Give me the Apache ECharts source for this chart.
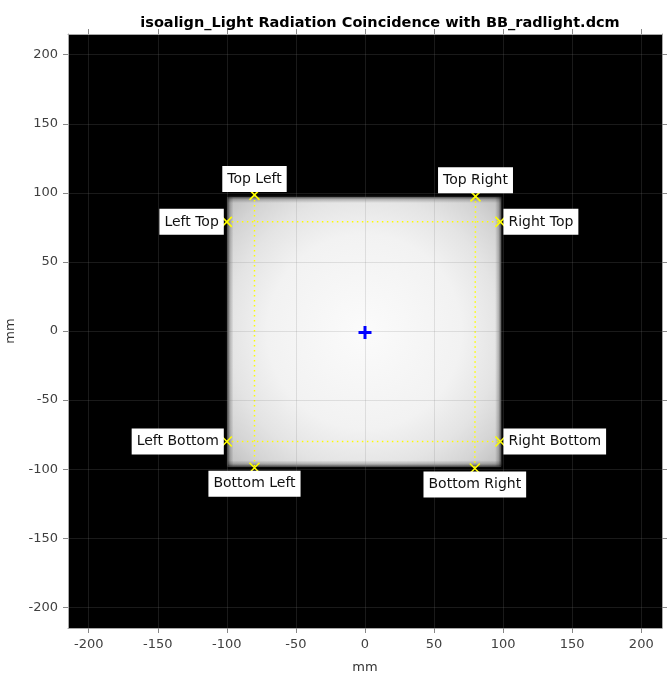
<!DOCTYPE html>
<html>
<head>
<meta charset="utf-8">
<script src="https://cdn.jsdelivr.net/npm/echarts@6/dist/echarts.min.js"></script>
<style>
html,body{margin:0;padding:0;background:#fff;}
#chart{width:672px;height:684px;}
</style>
</head>
<body>
<div id="chart"></div>
<script>
// ---- data ----
var titleText = 'isoalign_Light Radiation Coincidence with BB_radlight.dcm';
var axisMin = -215, axisMax = 215;
var tickValues = [-200, -150, -100, -50, 0, 50, 100, 150, 200];
// light field extent [xmin, ymin, xmax, ymax] (mm)
var fieldExtent = [-99.5, -98, 98.5, 97];
// edge detection points
var pointNames = ['Top Left', 'Top Right', 'Left Top', 'Right Top', 'Left Bottom', 'Right Bottom', 'Bottom Left', 'Bottom Right'];
var pointX = [-80, 80, -100, 98, -100, 98, -80, 79.5];
var pointY = [98.5, 97.5, 79, 79, -80, -80, -99, -99.5];
// pairs of points joined by dotted lines (indices into the arrays above)
var linePairs = [[2, 3], [4, 5], [0, 6], [1, 7]];
// radiation field centre (BB)
var centerPoint = [0, -1];

// ---- chart ----
var chart = echarts.init(document.getElementById('chart'));
var fontFam = '"DejaVu Sans", sans-serif';

function posFor(name) {
  var w = name.split(' ')[0];
  return {Top: 'top', Bottom: 'bottom', Left: 'left', Right: 'right'}[w];
}

var markerData = pointNames.map(function (n, i) {
  return {name: n, value: [pointX[i], pointY[i]]};
});
var labelData = pointNames.map(function (n, i) {
  return {name: n, value: [pointX[i], pointY[i]], label: {position: posFor(n)}};
});

var lineSeries = linePairs.map(function (p) {
  return {
    type: 'line', xAxisIndex: 0, yAxisIndex: 0, z: 3,
    data: [[pointX[p[0]], pointY[p[0]]], [pointX[p[1]], pointY[p[1]]]],
    symbol: 'none', silent: true,
    lineStyle: {color: '#ffff00', width: 1.5, type: [1.5, 3.5]}
  };
});

var grad = new echarts.graphic.RadialGradient(0.5, 0.5, 0.72, [
  {offset: 0, color: '#fbfbfb'},
  {offset: 0.5, color: '#f2f2f2'},
  {offset: 0.7, color: '#e4e4e4'},
  {offset: 0.85, color: '#d4d4d4'},
  {offset: 1, color: '#bcbcbc'}
]);

function edgeGrad(x0, y0, x1, y1) {
  return new echarts.graphic.LinearGradient(x0, y0, x1, y1, [
    {offset: 0, color: 'rgba(0,0,0,0.6)'},
    {offset: 0.4, color: 'rgba(0,0,0,0.22)'},
    {offset: 1, color: 'rgba(0,0,0,0)'}
  ]);
}

var axisCommon = {
  type: 'value', min: axisMin, max: axisMax, interval: 50,
  axisLine: {show: true, onZero: false, lineStyle: {color: '#a8a8a8', width: 1}},
  minorTick: {show: false}
};

function mkAxis(extra) {
  var o = JSON.parse(JSON.stringify(axisCommon));
  for (var k in extra) o[k] = extra[k];
  return o;
}

var tickStyle = {show: true, inside: false, length: 5, lineStyle: {color: '#888'}, customValues: tickValues};
var gridLine = {show: true, lineStyle: {color: 'rgba(128,128,128,0.2)', width: 1}};

var option = {
  animation: false,
  backgroundColor: '#ffffff',
  title: {
    text: titleText, left: 375, top: 11, textAlign: 'center',
    textStyle: {fontFamily: fontFam, fontSize: 14.5, fontWeight: 'bold', color: '#000'}
  },
  grid: {left: 68, right: 10, top: 34, bottom: 56, show: true, backgroundColor: '#000000', borderWidth: 0, outerBoundsMode: 'none', containLabel: false},
  xAxis: [
    mkAxis({
      position: 'bottom', z: 4, name: 'mm', nameLocation: 'middle', nameGap: 33,
      nameTextStyle: {fontFamily: fontFam, fontSize: 13, color: '#333'},
      axisLabel: {fontFamily: fontFam, fontSize: 13, color: '#404040', margin: 10, customValues: tickValues},
      axisTick: tickStyle,
      splitLine: gridLine
    }),
    mkAxis({
      position: 'top', z: 4,
      axisLabel: {show: false},
      axisTick: tickStyle,
      splitLine: {show: false}
    })
  ],
  yAxis: [
    mkAxis({
      position: 'left', z: 4, name: 'mm', nameLocation: 'middle', nameGap: 48, nameRotate: 90,
      nameTextStyle: {fontFamily: fontFam, fontSize: 13, color: '#333'},
      axisLabel: {fontFamily: fontFam, fontSize: 13, color: '#404040', margin: 10, customValues: tickValues},
      axisTick: tickStyle,
      splitLine: gridLine
    }),
    mkAxis({
      position: 'right', z: 4,
      axisLabel: {show: false},
      axisTick: tickStyle,
      splitLine: {show: false}
    })
  ],
  series: [
    {
      type: 'custom', xAxisIndex: 0, yAxisIndex: 0, z: 1, silent: true,
      data: [fieldExtent],
      encode: {x: [0, 2], y: [1, 3]},
      renderItem: function (params, api) {
        var p0 = api.coord([api.value(0), api.value(1)]);
        var p1 = api.coord([api.value(2), api.value(3)]);
        var x = Math.min(p0[0], p1[0]), y = Math.min(p0[1], p1[1]);
        var w = Math.abs(p1[0] - p0[0]), h = Math.abs(p1[1] - p0[1]);
        var e = 6;
        return {
          type: 'group',
          children: [
            {type: 'rect', shape: {x: x, y: y, width: w, height: h},
              style: {fill: grad, shadowBlur: 3, shadowColor: 'rgba(90,90,90,1)'}},
            {type: 'rect', shape: {x: x, y: y, width: e, height: h}, style: {fill: edgeGrad(0, 0, 1, 0)}},
            {type: 'rect', shape: {x: x + w - e, y: y, width: e, height: h}, style: {fill: edgeGrad(1, 0, 0, 0)}},
            {type: 'rect', shape: {x: x, y: y, width: w, height: e}, style: {fill: edgeGrad(0, 0, 0, 1)}},
            {type: 'rect', shape: {x: x, y: y + h - e, width: w, height: e}, style: {fill: edgeGrad(0, 1, 0, 0)}}
          ]
        };
      }
    }
  ].concat(lineSeries).concat([
    {
      type: 'scatter', xAxisIndex: 0, yAxisIndex: 0, z: 6,
      data: markerData,
      symbol: 'path://M0,0L10,10M10,0L0,10',
      symbolSize: 10,
      itemStyle: {color: 'none', borderColor: '#ffff00', borderWidth: 1.6, opacity: 1},
      emphasis: {disabled: true}
    },
    {
      type: 'scatter', xAxisIndex: 0, yAxisIndex: 0, z: 8,
      data: labelData,
      symbol: 'circle',
      symbolSize: 0.1,
      itemStyle: {color: 'rgba(0,0,0,0)', opacity: 1},
      label: {
        show: true, formatter: '{b}', distance: 3, opacity: 1,
        fontFamily: fontFam, fontSize: 14, color: '#111',
        backgroundColor: '#ffffff', padding: [5, 5, 5, 5], lineHeight: 16
      },
      emphasis: {disabled: true}
    },
    {
      type: 'scatter', xAxisIndex: 0, yAxisIndex: 0, z: 7,
      data: [centerPoint],
      symbol: 'path://M5,0L5,10M0,5L10,5',
      symbolSize: 13,
      itemStyle: {color: 'none', borderColor: '#0000ff', borderWidth: 3, opacity: 1},
      emphasis: {disabled: true}
    }
  ])
};
chart.setOption(option);
</script>
</body>
</html>
